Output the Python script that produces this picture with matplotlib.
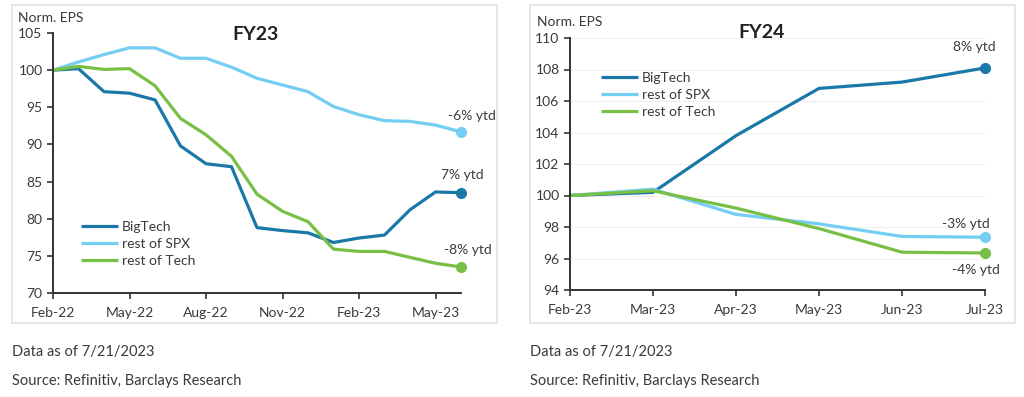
import matplotlib.pyplot as plt
from matplotlib.patches import Rectangle

plt.rcParams['font.family'] = ['Lato', 'DejaVu Sans']

# FY23 panel, monthly Feb-22 .. Jun-23
months23 = ['Feb-22', 'Mar-22', 'Apr-22', 'May-22', 'Jun-22', 'Jul-22', 'Aug-22', 'Sep-22',
            'Oct-22', 'Nov-22', 'Dec-22', 'Jan-23', 'Feb-23', 'Mar-23', 'Apr-23', 'May-23', 'Jun-23']
bigtech23 = [100, 100.2, 97.1, 96.9, 96.0, 89.8, 87.4, 87.0, 78.8, 78.4, 78.1, 76.8, 77.4, 77.8, 81.2, 83.6, 83.5]
spx23 = [100, 101.1, 102.1, 103.0, 103.0, 101.6, 101.6, 100.4, 98.9, 98.0, 97.1, 95.1, 94.0, 93.2, 93.1, 92.6, 91.7]
tech23 = [100, 100.5, 100.1, 100.2, 97.9, 93.5, 91.3, 88.4, 83.3, 81.0, 79.6, 75.9, 75.6, 75.6, 74.8, 74.0, 73.5]
ytd23 = ['7% ytd', '-6% ytd', '-8% ytd']

# FY24 panel, monthly Feb-23 .. Jul-23
months24 = ['Feb-23', 'Mar-23', 'Apr-23', 'May-23', 'Jun-23', 'Jul-23']
bigtech24 = [100, 100.2, 103.8, 106.8, 107.2, 108.1]
spx24 = [100, 100.4, 98.8, 98.2, 97.4, 97.35]
tech24 = [100, 100.3, 99.2, 97.9, 96.4, 96.35]
ytd24 = ['8% ytd', '-3% ytd', '-4% ytd']

names = ['BigTech', 'rest of SPX', 'rest of Tech']
colors = ['#1a78a8', '#74cdf2', '#78bf45']
txt = '#3a3a3a'

W, H = 1024, 397
fig = plt.figure(figsize=(W / 100, H / 100), dpi=100)

# light panel frames
for x0, x1 in [(12, 497), (530, 1015)]:
    fig.patches.append(Rectangle((x0 / W, 1 - 323 / H), (x1 - x0) / W, 318 / H,
                                 transform=fig.transFigure, fill=False,
                                 edgecolor='#e3e3e3', linewidth=1.2))


def panel(rect, months, series, ytd, ylim, ystep, tickstep, offsets, title, title_xy,
          eps_xy, leg_xy, grid):
    ax = fig.add_axes(rect)
    x = list(range(len(months)))
    for s, c, n in zip(series, colors, names):
        ax.plot(x, s, color=c, lw=2.3, label=n, solid_capstyle='butt')
        ax.plot(x[-1], s[-1], 'o', color=c, ms=7)
    for s, t, off in zip(series, ytd, offsets):
        ax.annotate(t, (x[-1], s[-1]), xytext=off, textcoords='offset pixels',
                    ha='center', va='center', fontsize=10, color=txt)
    ax.set_xlim(0, len(months) - 1)
    ax.set_ylim(*ylim)
    ax.set_yticks(range(ylim[0], ylim[1] + 1, ystep))
    ax.set_xticks(x[::tickstep])
    ax.set_xticklabels(months[::tickstep])
    for sp in ['top', 'right']:
        ax.spines[sp].set_visible(False)
    for sp in ['left', 'bottom']:
        ax.spines[sp].set_color('#333333')
        ax.spines[sp].set_linewidth(1.4)
    ax.tick_params(colors='#333333', labelcolor=txt, labelsize=10, length=4, width=1.2)
    ax.tick_params(axis='x', pad=6)
    for ln in ax.lines:
        ln.set_clip_on(False)
    if grid:
        ax.grid(axis='y', color='#f0f0f0', lw=0.8)
        ax.set_axisbelow(True)
    fig.text(title_xy[0] / W, 1 - title_xy[1] / H, title, ha='center', va='center',
             fontsize=14, fontweight='bold', color='#222222')
    fig.text(eps_xy[0] / W, 1 - eps_xy[1] / H, 'Norm. EPS', ha='left', va='center',
             fontsize=10, color=txt)
    ax.legend(loc='upper left', bbox_to_anchor=(leg_xy[0] / W, 1 - leg_xy[1] / H),
              bbox_transform=fig.transFigure, frameon=False, fontsize=10,
              handlelength=2.7, handletextpad=0.25, labelspacing=0.35, borderpad=0,
              labelcolor=txt)
    return ax


ax1 = panel([53 / W, 1 - 293 / H, 408 / W, 260 / H], months23,
            [bigtech23, spx23, tech23], ytd23, (70, 105), 5, 3,
            [(1, 18), (11, 16), (7, 17)], 'FY23', (255, 35), (18, 18), (74, 214), False)
ax2 = panel([570 / W, 1 - 290 / H, 415 / W, 252 / H], months24,
            [bigtech24, spx24, tech24], ytd24, (94, 110), 2, 1,
            [(-11, 21), (-19, 13), (-9, -17)], 'FY24', (762, 32), (537, 22), (594, 65), True)

for x0 in [12, 530]:
    fig.text(x0 / W, 1 - 352 / H, 'Data as of 7/21/2023', ha='left', va='center',
             fontsize=10.5, color=txt)
    fig.text(x0 / W, 1 - 381 / H, 'Source: Refinitiv, Barclays Research', ha='left',
             va='center', fontsize=10.5, color=txt)

fig.savefig('out.png', dpi=100, facecolor='white')
